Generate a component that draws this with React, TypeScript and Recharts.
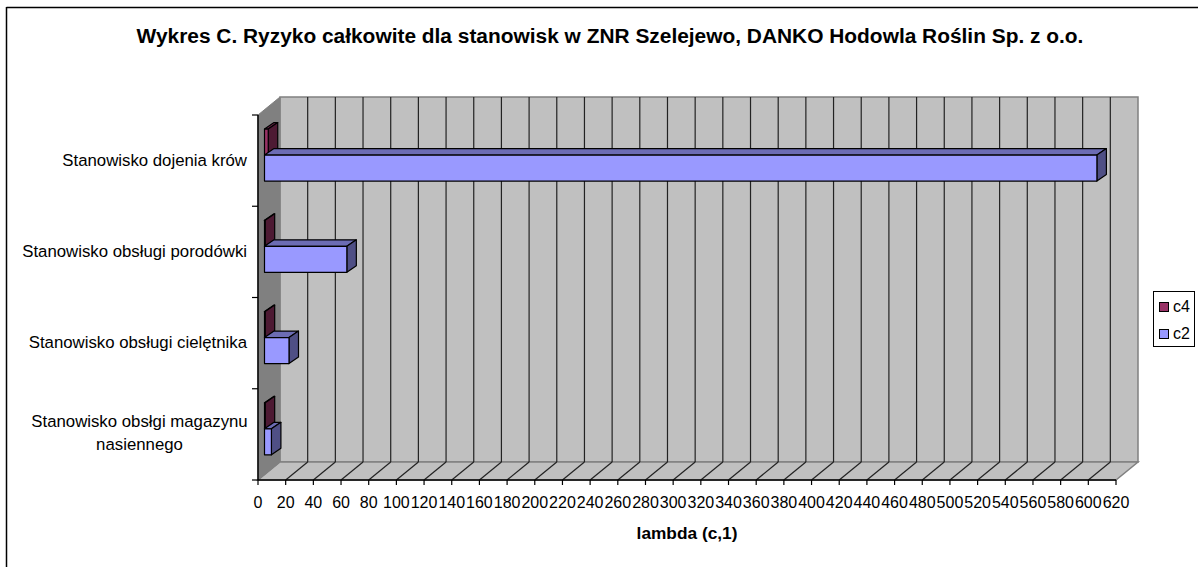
import { BarChart, Bar, XAxis, YAxis, CartesianGrid, Legend } from "recharts";

const categories = [
  "Stanowisko dojenia krów",
  "Stanowisko obsługi porodówki",
  "Stanowisko obsługi cielętnika",
  "Stanowisko obsłgi magazynu nasiennego",
];
const c4Values = [2.7, 0.5, 0.5, 0.5];
const c2Values = [601.5, 59.5, 17.7, 5];
const xTicks = [
  0, 20, 40, 60, 80, 100, 120, 140, 160, 180, 200, 220, 240, 260, 280, 300, 320,
  340, 360, 380, 400, 420, 440, 460, 480, 500, 520, 540, 560, 580, 600, 620,
];

const data = categories.map((name, i) => ({
  name,
  c4: c4Values[i],
  c2: c2Values[i],
}));

const FONT = "'Liberation Sans', Arial, sans-serif";
const DEPTH_X = 22;
const DEPTH_Y = 18;
const BAND = 365 / categories.length;

// side and back walls of the fake 3d box
function walls(l: number, t: number, r: number, b: number) {
  const pts = (p: number[][]) => p.map((q) => q.join(",")).join(" ");
  return (
    <g>
      <polygon
        points={pts([[l + DEPTH_X, t - DEPTH_Y], [r + DEPTH_X, t - DEPTH_Y], [r + DEPTH_X, b - DEPTH_Y], [l + DEPTH_X, b - DEPTH_Y]])}
        fill="#c0c0c0"
        stroke="#808080"
        strokeWidth={1.5}
      />
      <polygon
        points={pts([[l, b], [r, b], [r + DEPTH_X, b - DEPTH_Y], [l + DEPTH_X, b - DEPTH_Y]])}
        fill="#c0c0c0"
        stroke="#808080"
        strokeWidth={1.5}
      />
      <polygon
        points={pts([[l, t], [l + DEPTH_X, t - DEPTH_Y], [l + DEPTH_X, b - DEPTH_Y], [l, b]])}
        fill="#808080"
        stroke="#808080"
      />
    </g>
  );
}

// grid line on the back wall, plus its diagonal across the floor
function gridLine(props: any) {
  const { x1, y1, y2, index, x, y, width, height } = props;
  if (index === 0) {
    return <g key={index}>{walls(x, y, x + width, y + height)}</g>;
  }
  if (index >= xTicks.length - 1) return <g key={index} />;
  return (
    <g key={index} stroke="#222" strokeWidth={1.2}>
      <line x1={x1 + DEPTH_X} x2={x1 + DEPTH_X} y1={y1 - DEPTH_Y} y2={y2 - DEPTH_Y} />
      <line x1={x1} x2={x1 + DEPTH_X} y1={y2} y2={y2 - DEPTH_Y} />
    </g>
  );
}

function box3d(topFill: string, sideFill: string) {
  return function Box(props: any) {
    const { x, y, width, height, fill } = props;
    const dx = 9.5;
    const dy = 6.5;
    const sx = x + 6.5;
    const sy = y - 6;
    return (
      <g stroke="#000" strokeWidth={1.2} strokeLinejoin="round">
        <polygon
          fill={topFill}
          points={`${sx},${sy} ${sx + width},${sy} ${sx + width + dx},${sy - dy} ${sx + dx},${sy - dy}`}
        />
        <polygon
          fill={sideFill}
          points={`${sx + width},${sy} ${sx + width + dx},${sy - dy} ${sx + width + dx},${sy + height - dy} ${sx + width},${sy + height}`}
        />
        <rect x={sx} y={sy} width={width} height={height} fill={fill} />
      </g>
    );
  };
}

function CategoryTick(props: any) {
  const { x, y, payload, index } = props;
  const label: string = payload.value;
  const text =
    label.length > 30 ? (
      <text fontFamily={FONT} fontSize={16.8} fill="#000" textAnchor="middle">
        <tspan x={139.5} y={y - 7}>Stanowisko obsłgi magazynu</tspan>
        <tspan x={139.5} y={y + 16}>nasiennego</tspan>
      </text>
    ) : (
      <text x={x - 3} y={y + 5} fontFamily={FONT} fontSize={16.8} fill="#000" textAnchor="end">
        {label}
      </text>
    );
  return (
    <g>
      <line x1={x + 2} x2={x + 8} y1={y - BAND / 2} y2={y - BAND / 2} stroke="#000" strokeWidth={1.2} />
      {index === categories.length - 1 && (
        <line x1={x + 2} x2={x + 8} y1={y + BAND / 2} y2={y + BAND / 2} stroke="#000" strokeWidth={1.2} />
      )}
      {text}
    </g>
  );
}

function LegendBox({ payload }: any) {
  return (
    <div
      style={{
        width: 40,
        height: 53,
        border: "1px solid #000",
        background: "#fff",
        fontFamily: FONT,
        fontSize: 16,
        color: "#000",
        paddingTop: 1,
      }}
    >
      {(payload || []).map((p: any) => (
        <div key={p.value} style={{ display: "flex", alignItems: "center", height: 27, marginLeft: 5 }}>
          <span style={{ width: 8, height: 8, border: "1px solid #000", background: p.color, marginRight: 4 }} />
          {p.value}
        </div>
      ))}
    </div>
  );
}

export default function App() {
  return (
    <div style={{ position: "absolute", left: 0, top: 0, width: 1198, height: 567, overflow: "hidden", background: "#fff" }}>
      <BarChart
        width={1198}
        height={567}
        data={data}
        layout="vertical"
        barCategoryGap="22%"
        barGap={0}
        margin={{ top: 115, right: 40, bottom: 0, left: 0 }}
      >
        <line x1={6.5} x2={1198} y1={7.5} y2={7.5} stroke="#000" strokeWidth={1.5} />
        <line x1={6.5} x2={6.5} y1={7} y2={567} stroke="#000" strokeWidth={1.5} />
        <text x={610} y={43} textAnchor="middle" fontFamily={FONT} fontSize={20.9} fontWeight="bold" fill="#000">
          Wykres C. Ryzyko całkowite dla stanowisk w ZNR Szelejewo, DANKO Hodowla Roślin Sp. z o.o.
        </text>
        <CartesianGrid horizontal={false} vertical={gridLine} syncWithTicks />
        <XAxis
          type="number"
          domain={[0, 620]}
          ticks={xTicks}
          interval={0}
          height={87}
          tickSize={5}
          tickMargin={12}
          stroke="#000"
          tick={{ fill: "#000", fontFamily: FONT, fontSize: 16 }}
          tickLine={{ stroke: "#000", strokeWidth: 1.2 }}
          axisLine={{ stroke: "#000", strokeWidth: 1.5 }}
          label={{
            value: "lambda (c,1)",
            position: "insideBottom",
            offset: 28,
            fontFamily: FONT,
            fontSize: 17.3,
            fontWeight: "bold",
            fill: "#000",
          }}
        />
        <YAxis
          type="category"
          dataKey="name"
          width={258}
          interval={0}
          tickLine={false}
          axisLine={{ stroke: "#000", strokeWidth: 1.5 }}
          tick={CategoryTick}
        />
        <Bar dataKey="c4" name="c4" fill="#993366" isAnimationActive={false} shape={box3d("#6b2347", "#4d1a33")} />
        <Bar dataKey="c2" name="c2" fill="#9999ff" isAnimationActive={false} shape={box3d("#6c6cb4", "#4f4f85")} />
        <Legend
          layout="vertical"
          align="right"
          verticalAlign="middle"
          itemSorter={null}
          content={LegendBox}
          wrapperStyle={{ position: "absolute", left: 1153, top: 291, width: 42, bottom: "auto" }}
        />
      </BarChart>
    </div>
  );
}
